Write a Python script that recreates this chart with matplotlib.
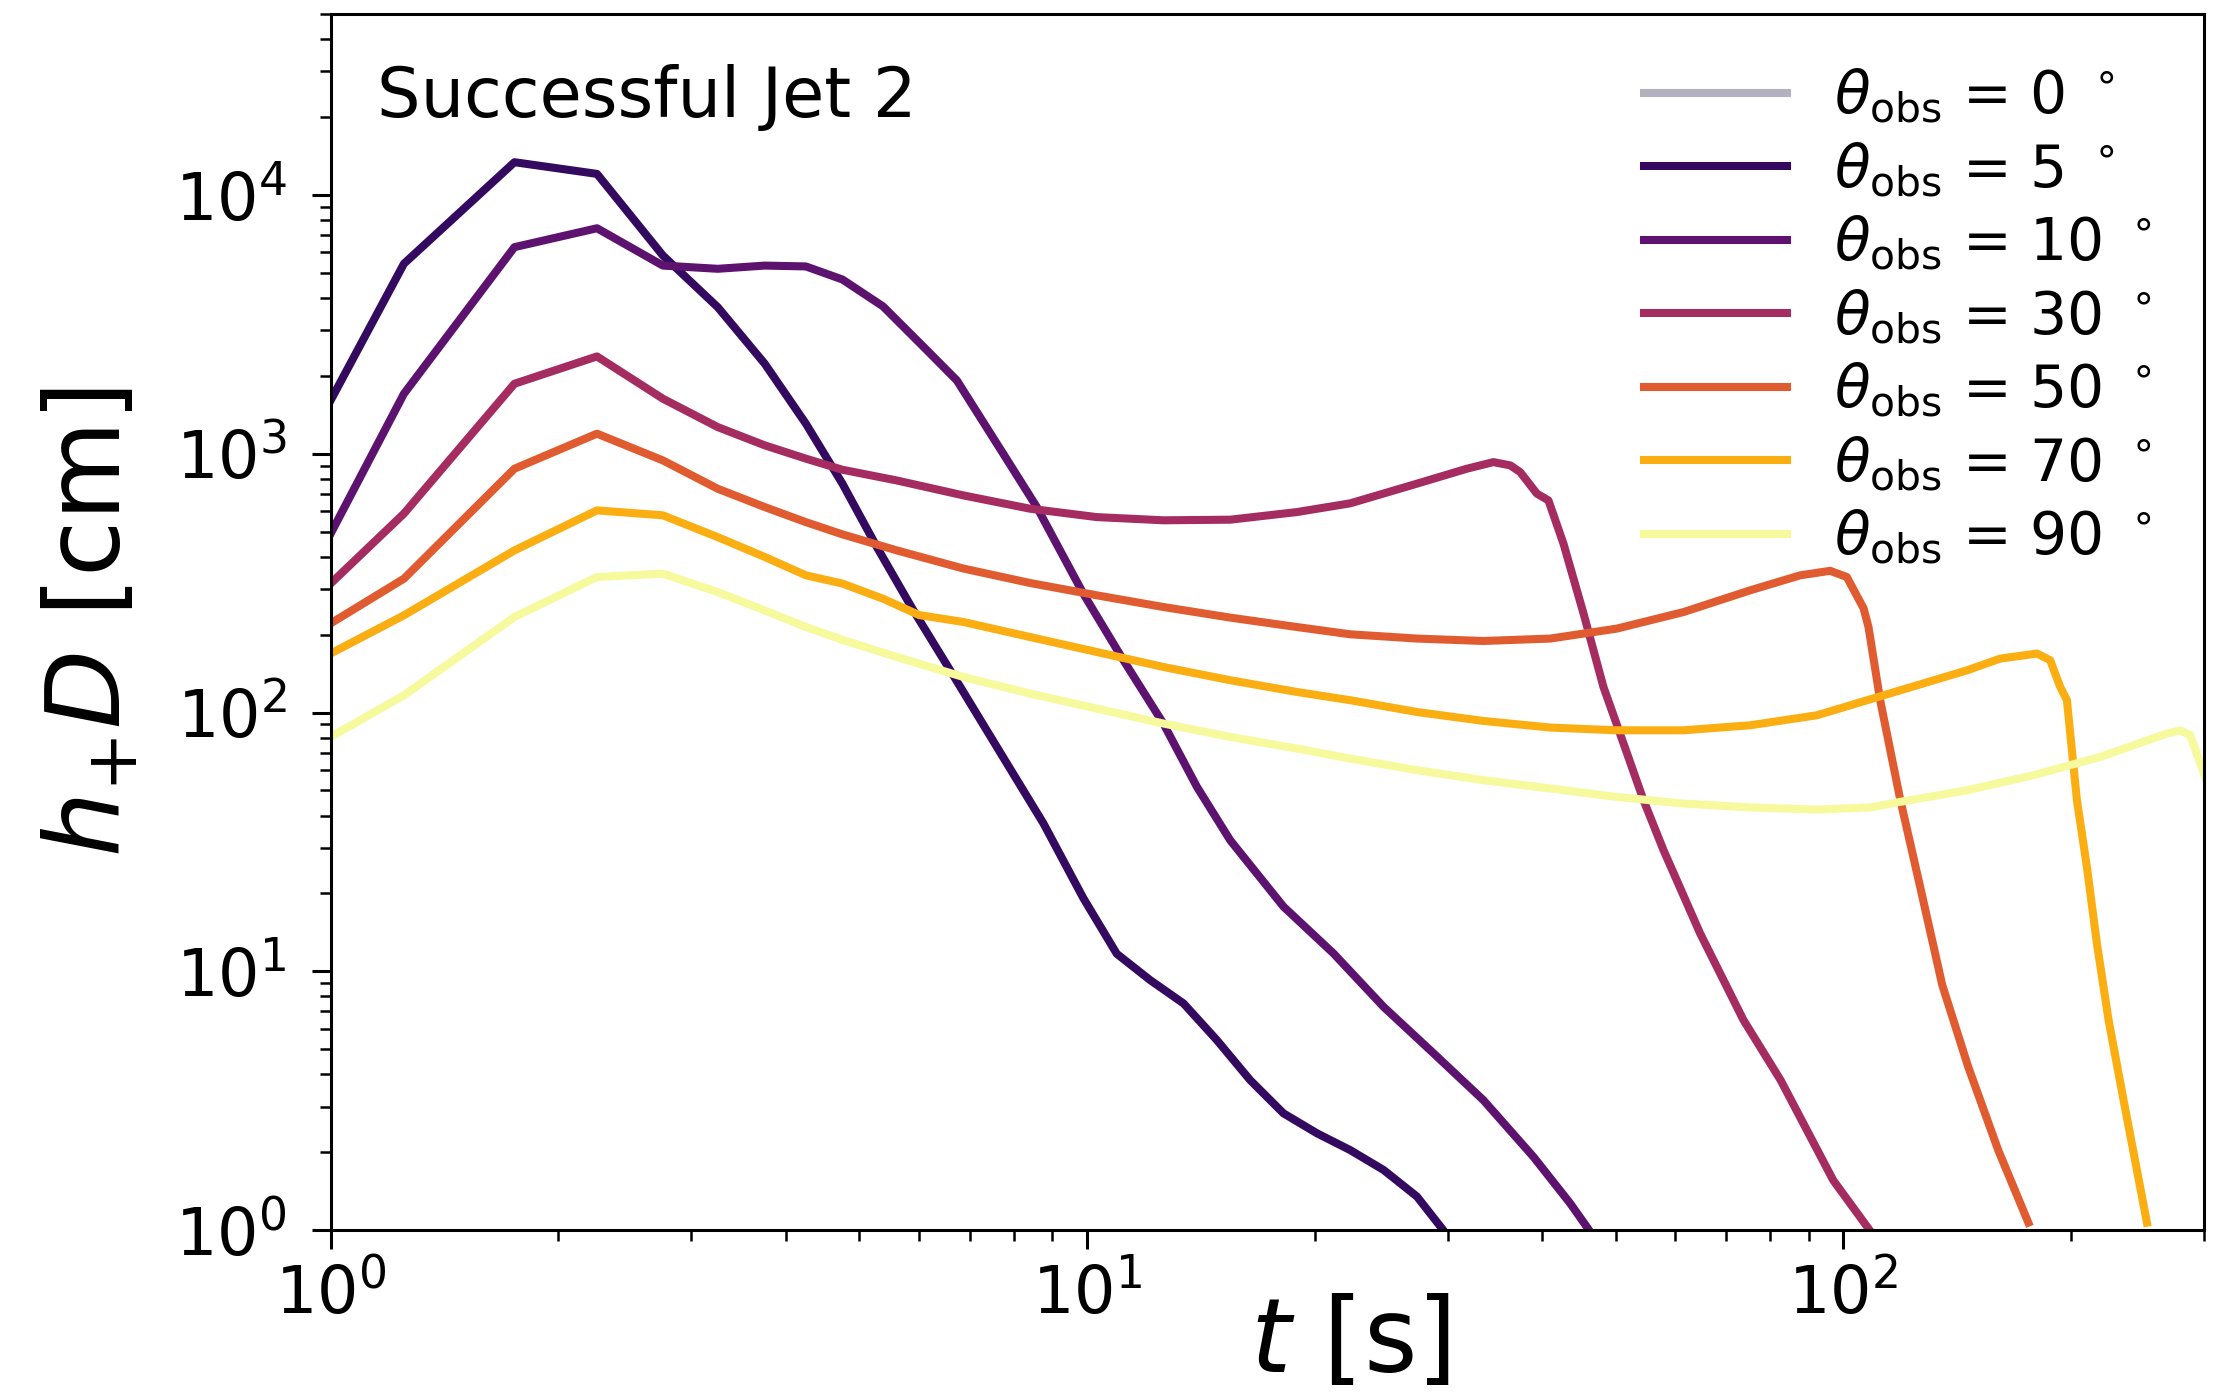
import matplotlib
matplotlib.use("Agg")
import matplotlib.pyplot as plt
from matplotlib.ticker import LogLocator, NullFormatter

# Gravitational-wave strain amplitude h_+ D versus time for several observer angles
t_early = [1.0, 1.25, 1.75, 2.25, 2.75, 3.25, 3.75, 4.25, 4.75]

t_00 = []
h_00 = []

t_05 = t_early + [5.275, 5.896, 6.594, 7.60, 8.76, 9.89, 10.95, 12.12, 13.42,
                  14.85, 16.44, 18.19, 20.14, 22.29, 24.67, 27.31, 29.6, 30.5]
h_05 = [1607, 5420, 13370, 12050, 5830, 3680, 2226, 1306, 766,
        436, 248, 145.7, 73.7, 37.3, 19.2, 11.7, 9.26, 7.52,
        5.43, 3.80, 2.83, 2.37, 2.04, 1.71, 1.35, 1.0, 0.88]

t_10 = t_early + [5.377, 6.13, 6.73, 7.75, 8.585, 9.89, 11.18, 12.62, 13.98,
                  15.47, 18.19, 21.18, 24.67, 28.72, 33.44, 38.95, 43.55, 46.14, 47.5]
h_10 = [491, 1705, 6280, 7430, 5330, 5180, 5330, 5290, 4710,
        3705, 2527, 1919, 1000, 622, 288, 159, 90.7, 51.6,
        32.1, 17.8, 11.74, 7.30, 4.83, 3.18, 1.92, 1.27, 1.0, 0.85]

t_30 = t_early + [5.607, 6.866, 8.41, 10.30, 12.62, 15.47, 18.95, 22.29, 27.31,
                  31.8, 34.47, 36.3, 37.4, 39.35, 40.76, 42.67, 45.36, 48.19,
                  51.23, 54.44, 57.86, 64.7, 73.8, 82.65, 97.0, 108.4, 111.0]
h_30 = [315, 587, 1863, 2376, 1631, 1267, 1077, 957, 867,
        788, 690, 613, 569, 553, 556, 595, 643, 766,
        875, 928, 901, 849, 701, 660, 449, 241, 125.6,
        75.9, 45.9, 29.4, 14.0, 6.49, 3.80, 1.56, 1.0, 0.9]

t_50 = t_early + [5.607, 6.866, 8.41, 10.30, 12.62, 15.47, 18.95, 22.29, 27.31,
                  33.44, 40.97, 50.2, 61.5, 75.35, 87.73, 96.1, 101.1, 106.4,
                  108.0, 111.9, 119.0, 126.4, 135.2, 146.3, 160.3, 175.7]
h_50 = [221, 329, 875, 1195, 942, 732, 622, 544, 488,
        423, 360, 316.6, 283.8, 255.7, 232.7, 214, 200.6, 193.1,
        189, 193.1, 211, 244.5, 296.7, 339, 352.8, 333.9, 252.7,
        214, 111.6, 45.9, 21.2, 8.85, 4.28, 2.04, 1.07]

t_70 = t_early + [5.38, 6.0, 6.866, 8.41, 10.30, 12.62, 15.47, 18.95, 22.29, 27.31,
                  33.44, 40.97, 50.2, 61.5, 75.35, 92.3, 119.0, 145.8, 161.3,
                  180.4, 187.8, 193.6, 197.6, 199.6, 203.7, 210.0, 216.5, 224.3,
                  234.8, 252.1]
h_70 = [169, 237.5, 423, 604, 578, 476, 399, 339, 315,
        275, 238, 223.8, 195.8, 171.4, 150, 133.3, 120.1, 111.6, 100.5,
        92.8, 87.5, 85.4, 85.4, 89.3, 97.6, 121.9, 145.6, 161.6,
        169.0, 159.2, 125.6, 111.6, 83.0, 45.9, 25.3, 12.8, 6.49,
        3.18, 1.07]

t_90 = t_early + [5.607, 6.866, 8.41, 10.30, 12.62, 15.47, 18.95, 22.29, 27.31,
                  33.44, 40.97, 50.2, 61.5, 75.35, 92.3, 108.6, 119.0, 145.8,
                  178.5, 218.8, 267.9, 279.0, 287.6, 296.6, 302.0]
h_90 = [80.5, 116.6, 234, 334, 344, 292, 248, 214, 191,
        163.9, 137.2, 118.4, 103.6, 90.7, 80.5, 72.6, 66.4, 59.9,
        54.8, 50.9, 47.2, 44.5, 43.0, 42.2, 43.0, 45.2, 50.1,
        57.3, 67.4, 83.0, 85.4, 81.7, 63.5, 55.0]

angles = [0, 5, 10, 30, 50, 70, 90]
times = [t_00, t_05, t_10, t_30, t_50, t_70, t_90]
strains = [h_00, h_05, h_10, h_30, h_50, h_70, h_90]
colors = ["#b3b0c0", "#330a5f", "#5c126e", "#a52c60", "#e15b30", "#fbae12", "#f6f99c"]

plt.rcParams["font.family"] = ["DejaVu Sans"]
plt.rcParams["mathtext.fontset"] = "dejavusans"

fig = plt.figure(figsize=(11.17, 6.96), dpi=200)
ax = fig.add_axes([0.148, 0.1162, 0.8386, 0.8738])

for ang, t, h, c in zip(angles, times, strains, colors):
    ax.plot(t, h, color=c, lw=2.9,
            label=r"$\theta_{\rm obs}$ = %d $^\circ$" % ang)

ax.set_xscale("log")
ax.set_yscale("log")
ax.set_xlim(1, 300)
ax.set_ylim(1, 5e4)

ax.xaxis.set_minor_locator(LogLocator(base=10, subs=range(2, 10), numticks=20))
ax.yaxis.set_minor_locator(LogLocator(base=10, subs=range(2, 10), numticks=20))
ax.xaxis.set_minor_formatter(NullFormatter())
ax.yaxis.set_minor_formatter(NullFormatter())

ax.tick_params(which="major", length=6.8, width=1.1, labelsize=23.5, direction="out")
ax.tick_params(which="minor", length=3.8, width=0.9, direction="out")
ax.tick_params(axis="x", which="major", pad=5)
ax.tick_params(axis="y", which="major", pad=9)
for sp in ax.spines.values():
    sp.set_linewidth(1.1)

ax.set_xlabel(r"$t$ [s]", fontsize=37)
ax.set_ylabel(r"$h_{+}D$ [cm]", fontsize=37)
ax.xaxis.set_label_coords(0.544, -0.052)
ax.yaxis.set_label_coords(-0.10, 0.5)

ax.text(0.025, 0.9153, "Successful Jet 2", transform=ax.transAxes,
        fontsize=24.7, va="baseline", ha="left")

ax.legend(loc="upper right", frameon=False, fontsize=21, handlelength=2.45,
          handletextpad=0.8, labelspacing=0.25, borderaxespad=0.45, borderpad=0.45)

fig.savefig("out.png", dpi=200, facecolor="white")
